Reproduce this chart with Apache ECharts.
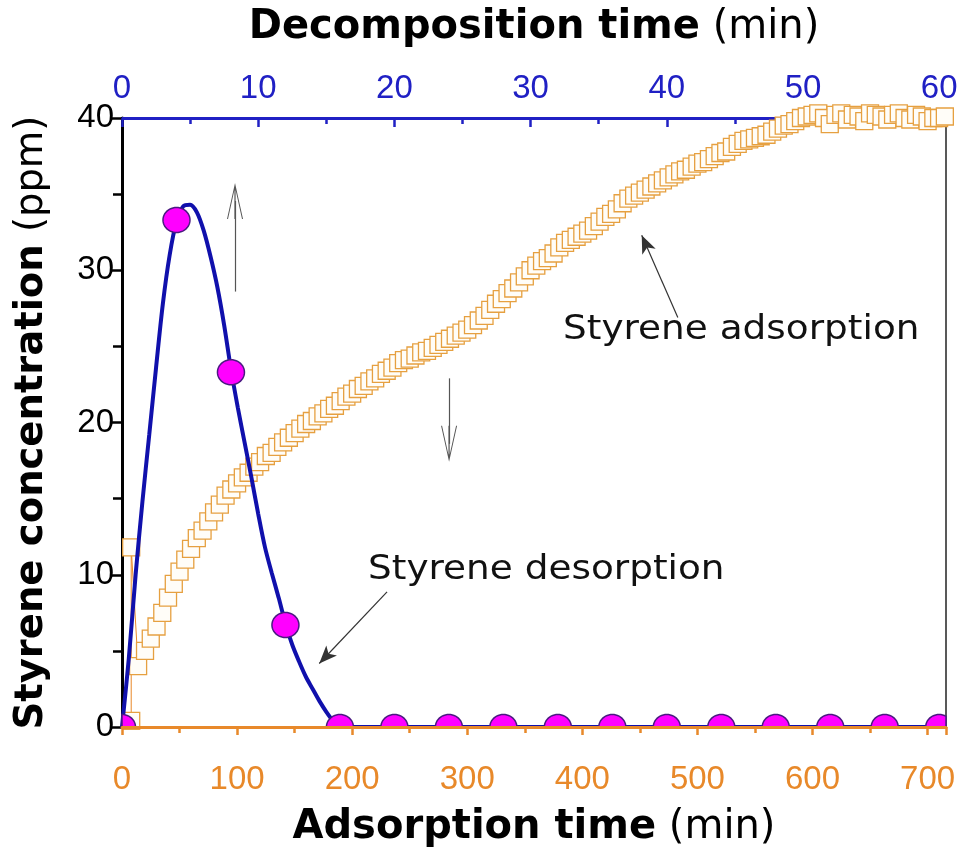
<!DOCTYPE html>
<html>
<head>
<meta charset="utf-8">
<script src="https://cdn.jsdelivr.net/npm/echarts@6/dist/echarts.min.js"></script>
<style>
    html, body { margin: 0; padding: 0; background: #fff; }
    #chart { width: 965px; height: 850px; }
</style>
</head>
<body>
<div id="chart"></div>
<script>
// adsorption run (bottom axis, min)
var adsTime = [8, 8, 14,
    20, 25, 30, 35, 40, 45, 50, 55, 60, 65, 70, 75, 80, 85, 90, 95,
    100, 105, 110, 115, 120, 125, 130, 135, 140, 145, 150, 155, 160, 165, 170, 175, 180, 185, 190, 195,
    200, 205, 210, 215, 220, 225, 230, 235, 240, 245, 250, 255, 260, 265, 270, 275, 280, 285, 290, 295,
    300, 305, 310, 315, 320, 325, 330, 335, 340, 345, 350, 355, 360, 365, 370, 375, 380, 385, 390, 395,
    400, 405, 410, 415, 420, 425, 430, 435, 440, 445, 450, 455, 460, 465, 470, 475, 480, 485, 490, 495,
    500, 505, 510, 515, 520, 525, 530, 535, 540, 545, 550, 555, 560, 565, 570, 575, 580, 585, 590, 595,
    600, 605, 610, 615, 620, 625, 630, 635, 640, 645, 650, 655, 660, 665, 670, 675, 680, 685, 690, 695,
    700, 705, 710, 715];
var adsConc = [0.4, 11.8, 4.0,
    5.0, 5.8, 6.6, 7.5, 8.5, 9.4, 10.2, 11.0, 11.7, 12.4, 12.9, 13.5, 14.1, 14.6, 15.2, 15.6,
    16.0, 16.4, 16.7, 17.1, 17.4, 17.8, 18.0, 18.4, 18.7, 19.0, 19.3, 19.6, 19.9, 20.1, 20.4, 20.6, 20.9, 21.1, 21.4, 21.7,
    21.9, 22.2, 22.4, 22.7, 22.9, 23.2, 23.4, 23.6, 23.9, 24.1, 24.2, 24.4, 24.6, 24.7, 24.9, 25.1, 25.3, 25.5, 25.7, 25.9,
    26.1, 26.4, 26.7, 27.0, 27.4, 27.8, 28.1, 28.5, 28.8, 29.2, 29.6, 30.0, 30.3, 30.6, 30.8, 31.1, 31.5, 31.8, 32.0, 32.2,
    32.4, 32.6, 32.9, 33.2, 33.5, 33.7, 34.0, 34.4, 34.7, 34.9, 35.1, 35.3, 35.5, 35.7, 35.9, 36.1, 36.3, 36.5, 36.6, 36.8,
    37.0, 37.1, 37.3, 37.5, 37.7, 37.8, 38.1, 38.3, 38.5, 38.6, 38.7, 38.8, 38.9, 39.1, 39.3, 39.5, 39.6, 39.8, 40.0, 40.1,
    40.2, 40.3, 40.0, 39.6, 40.2, 40.3, 39.9, 40.2, 40.1, 39.8, 40.3, 40.2, 40.1, 39.9, 40.2, 40.3, 40.0, 39.9, 40.2, 40.1,
    39.8, 40.0, 40.0, 40.1];

// desorption fitted curve (top axis, min)
var desCurveTime = [0, 0.5, 1, 1.5, 2, 2.5, 3, 3.5, 4, 4.5, 5, 5.5, 6, 6.5, 7, 7.5, 8, 8.5, 9, 9.5,
    10, 10.5, 11, 11.5, 12, 12.5, 13, 13.5, 14, 14.5, 15, 15.5, 16, 20, 30, 40, 50, 60];
var desCurveConc = [0, 4.5, 10.0, 14.8, 19.2, 23.6, 27.8, 31.0, 33.2, 34.2, 34.3, 33.8, 32.6, 30.9, 28.9, 26.4, 23.5, 21.0, 18.7, 16.4,
    14.0, 11.8, 10.1, 8.5, 6.8, 5.4, 4.3, 3.3, 2.5, 1.7, 1.0, 0.4, 0, 0, 0, 0, 0, 0];

// desorption measured points
var desPtTime = [0, 4, 8, 12, 16, 20, 24, 28, 32, 36, 40, 44, 48, 52, 56, 60];
var desPtConc = [0, 33.3, 23.3, 6.7, 0, 0, 0, 0, 0, 0, 0, 0, 0, 0, 0, 0];

var cOrange = '#E8892A';
var cSquare = '#E6A040';
var cBlueAxis = '#2020C4';
var cBlueLine = '#1010AC';
var fTick = '"Liberation Sans", Arial, sans-serif';
var fName = '"DejaVu Sans", sans-serif';

function zip(xs, ys) {
    return xs.map(function (x, i) { return [x, ys[i]]; });
}

// 空心箭头（带箭杆）
var vArrow = 'path://M8,0 L16,36 L15,36 L8.6,7 L8.6,36 L7.4,36 L7.4,7 L1,36 L0,36 Z';

// 圆点轮廓，超出绘图区的部分压到边界上（相当于裁剪）
function clippedEllipse(cx, cy, rx, ry, cs) {
    var pts = [];
    for (var k = 0; k < 48; k++) {
        var a = k / 48 * Math.PI * 2;
        var x = cx + rx * Math.cos(a);
        var y = cy + ry * Math.sin(a);
        x = Math.max(cs.x, Math.min(cs.x + cs.width, x));
        y = Math.max(cs.y, Math.min(cs.y + cs.height, y));
        pts.push([x, y]);
    }
    return pts;
}

var oChart = echarts.init(document.getElementById('chart'), null, { renderer: 'canvas' });

var oOption = {
    backgroundColor: '#fff',
    animation: false,
    grid: { left: 122, right: 19, top: 118, bottom: 123, containLabel: false, outerBoundsMode: 'none' },
    xAxis: [
        {
            // 吸附时间
            type: 'value', position: 'bottom', min: 0, max: 716, interval: 100, z: 6,
            axisLine: { onZero: false, lineStyle: { color: cOrange, width: 3 } },
            axisTick: { inside: false, length: 8, lineStyle: { color: cOrange, width: 2.5 } },
            minorTick: { show: true, splitNumber: 2, length: 6, lineStyle: { color: cOrange, width: 2.5 } },
            axisLabel: { color: cOrange, fontSize: 33, fontFamily: fTick, margin: 36, showMaxLabel: false },
            splitLine: { show: false },
            name: '{b|Adsorption time}{n| (min)}',
            nameLocation: 'middle', nameGap: 81,
            nameTextStyle: {
                rich: {
                    b: { fontFamily: fName, fontWeight: 'bold', fontSize: 40, color: '#000' },
                    n: { fontFamily: fName, fontSize: 40, color: '#000' }
                }
            }
        },
        {
            // 分解时间
            type: 'value', position: 'top', min: 0, max: 60.5, interval: 10,
            axisLine: { onZero: false, lineStyle: { color: cBlueAxis, width: 3 } },
            axisTick: { inside: true, length: 9, lineStyle: { color: cBlueAxis, width: 2.5 } },
            minorTick: { show: true, splitNumber: 2, length: 6, lineStyle: { color: cBlueAxis, width: 2.5 } },
            axisLabel: { color: cBlueAxis, fontSize: 33, fontFamily: fTick, margin: 13, showMaxLabel: false },
            splitLine: { show: false },
            name: '{b|Decomposition time}{n| (min)}',
            nameLocation: 'middle', nameGap: 70,
            nameTextStyle: {
                rich: {
                    b: { fontFamily: fName, fontWeight: 'bold', fontSize: 40, color: '#000' },
                    n: { fontFamily: fName, fontSize: 40, color: '#000' }
                }
            }
        }
    ],
    yAxis: [
        {
            type: 'value', position: 'left', min: 0, max: 40, interval: 10,
            axisLine: { onZero: false, lineStyle: { color: '#000', width: 3 } },
            axisTick: { inside: false, length: 10, lineStyle: { color: '#000', width: 2.5 } },
            minorTick: { show: true, splitNumber: 2, length: 9, lineStyle: { color: '#000', width: 2.5 } },
            axisLabel: { color: '#000', fontSize: 33, fontFamily: fTick, margin: 8 },
            splitLine: { show: false },
            name: '{b|Styrene concentration}{n| (ppm)}',
            nameLocation: 'middle', nameGap: 71,
            nameTextStyle: {
                rich: {
                    b: { fontFamily: fName, fontWeight: 'bold', fontSize: 38.5, color: '#000' },
                    n: { fontFamily: fName, fontSize: 38.5, color: '#000' }
                }
            }
        },
        {
            type: 'value', position: 'right', min: 0, max: 40,
            axisLine: { show: true, onZero: false, lineStyle: { color: '#222', width: 1.5 } },
            axisTick: { show: false }, axisLabel: { show: false }, splitLine: { show: false }
        }
    ],
    graphic: [
        { type: 'text', left: 563, top: 313, scaleX: 1.1, style: { text: 'Styrene adsorption', font: '34px "DejaVu Sans"', fill: '#111' } },
        { type: 'text', left: 368, top: 553, scaleX: 1.1, style: { text: 'Styrene desorption', font: '34px "DejaVu Sans"', fill: '#111' } }
    ],
    series: [
        {
            name: 'adsorption line', type: 'line', xAxisIndex: 0, yAxisIndex: 0,
            data: zip(adsTime, adsConc),
            showSymbol: false, z: 2,
            lineStyle: { color: cOrange, width: 1 },
            markLine: {
                silent: true, animation: false,
                label: { show: false },
                lineStyle: { color: '#555', width: 1.2, type: 'solid' },
                data: [
                    [{ coord: [98.2, 28.6], symbol: 'none' }, { coord: [98.2, 34.55], symbol: vArrow, symbolSize: [16, 36] }],
                    [{ coord: [284.2, 22.9], symbol: 'none' }, { coord: [284.2, 18.6], symbol: vArrow, symbolSize: [16, 36] }],
                    [{ coord: [483, 26.9], symbol: 'none', lineStyle: { color: '#333' } }, { coord: [451.6, 32.3], symbol: 'arrow', symbolSize: [11, 18] }],
                    [{ coord: [230.3, 8.87], symbol: 'none', lineStyle: { color: '#333' } }, { coord: [171.4, 4.17], symbol: 'arrow', symbolSize: [11, 18] }]
                ]
            }
        },
        {
            name: 'adsorption', type: 'custom', xAxisIndex: 0, yAxisIndex: 0,
            data: zip(adsTime, adsConc), z: 3,
            renderItem: function (params, api) {
                var p = api.coord([api.value(0), api.value(1)]);
                return {
                    type: 'rect',
                    shape: { x: p[0] - 8.5, y: p[1] - 8.5, width: 17, height: 17 },
                    style: { fill: '#fffdf8', stroke: cSquare, lineWidth: 1.3 }
                };
            }
        },
        {
            name: 'desorption curve', type: 'line', xAxisIndex: 1, yAxisIndex: 0,
            data: zip(desCurveTime, desCurveConc),
            smooth: 0.3, showSymbol: false, clip: true, z: 4,
            lineStyle: { color: cBlueLine, width: 4 }
        },
        {
            name: 'desorption', type: 'custom', xAxisIndex: 1, yAxisIndex: 0,
            data: zip(desPtTime, desPtConc), z: 5,
            renderItem: function (params, api) {
                var p = api.coord([api.value(0), api.value(1)]);
                return {
                    type: 'polygon',
                    shape: { points: clippedEllipse(p[0], p[1], 13.5, 12.5, params.coordSys) },
                    style: { fill: '#FF00FF', stroke: '#4A1A80', lineWidth: 1.5 }
                };
            }
        }
    ]
};

oChart.setOption(oOption, true);
</script>
</body>
</html>
